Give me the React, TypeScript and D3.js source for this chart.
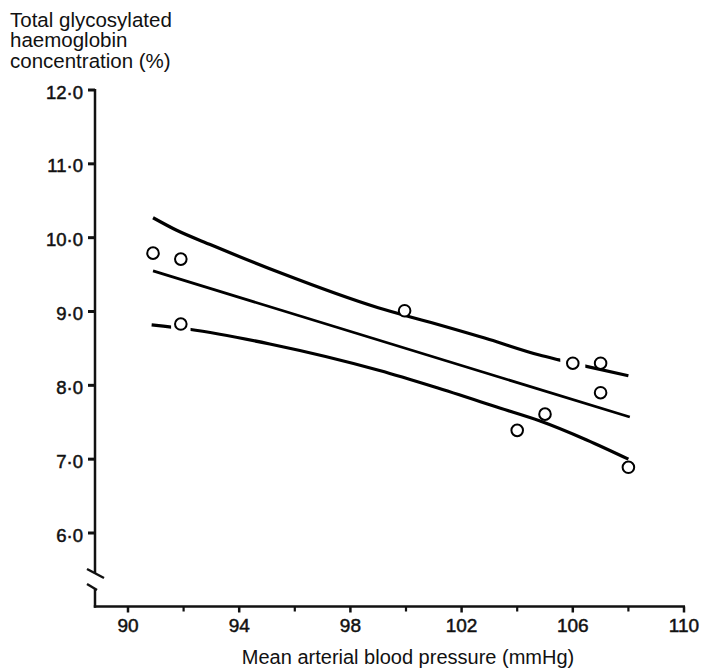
import React from "react";
import * as d3 from "d3";

// Observations: mean arterial blood pressure (mmHg) vs total glycosylated haemoglobin (%)
const mapValues = [90.9, 91.9, 91.9, 99.95, 106.0, 107.0, 107.0, 105.0, 104.0, 108.0];
const hbValues = [9.79, 9.71, 8.83, 9.01, 8.30, 8.30, 7.90, 7.61, 7.39, 6.89];

// Fitted regression line (end points)
const regX = [90.9, 108.05];
const regY = [9.55, 7.57];

// Upper and lower confidence limits
const upperX = [90.9, 91.75, 93, 95.5, 99, 100.9, 103, 104.8, 105.5, 106.45, 108];
const upperY = [10.27, 10.1, 9.9, 9.52, 9.05, 8.85, 8.62, 8.41, 8.345, 8.26, 8.13];
const lowerX = [90.85, 92.2, 95.1, 99.05, 101, 103.4, 104.8, 106.5, 108];
const lowerY = [8.82, 8.76, 8.56, 8.2, 7.98, 7.69, 7.52, 7.26, 7.0];

// Breaks in the limit lines where they pass a plotted point
const upperGap = [105.55, 106.45];
const lowerGap = [91.55, 92.25];

const xMajorTicks = [90, 94, 98, 102, 106, 110];
const xMinorTicks = [92, 96, 100, 104, 108];
const yTicks = [6, 7, 8, 9, 10, 11, 12];
const yTitleLines = ["Total glycosylated", "haemoglobin", "concentration (%)"];
const xTitle = "Mean arterial blood pressure (mmHg)";

const W = 703;
const H = 672;
const FONT = "'Liberation Sans', Arial, Helvetica, sans-serif";

export default function App() {
  const x = d3.scaleLinear().domain([90, 110]).range([128, 684]);
  const y = d3.scaleLinear().domain([6, 12]).range([533, 90]);
  const axisX = 95;
  const axisY = 606.5;

  const line = d3
    .line<[number, number]>()
    .x((d) => x(d[0]))
    .y((d) => y(d[1]))
    .curve(d3.curveMonotoneX);

  const upperPath = line(upperX.map((v, i) => [v, upperY[i]]) as [number, number][]) || "";
  const lowerPath = line(lowerX.map((v, i) => [v, lowerY[i]]) as [number, number][]) || "";
  const regPath =
    d3
      .line<[number, number]>()
      .x((d) => x(d[0]))
      .y((d) => y(d[1]))(regX.map((v, i) => [v, regY[i]]) as [number, number][]) || "";

  const labelText = (fs: number) => ({
    fontFamily: FONT,
    fontSize: fs,
    fill: "#111",
  });

  return (
    <svg
      width={W}
      height={H}
      viewBox={`0 0 ${W} ${H}`}
      style={{ position: "absolute", left: 0, top: 0, background: "#fff" }}
    >
      <defs>
        <mask id="upperMask" maskUnits="userSpaceOnUse" x={0} y={0} width={W} height={H}>
          <rect x={0} y={0} width={W} height={H} fill="#fff" />
          <rect x={x(upperGap[0])} y={0} width={x(upperGap[1]) - x(upperGap[0])} height={H} fill="#000" />
        </mask>
        <mask id="lowerMask" maskUnits="userSpaceOnUse" x={0} y={0} width={W} height={H}>
          <rect x={0} y={0} width={W} height={H} fill="#fff" />
          <rect x={x(lowerGap[0])} y={0} width={x(lowerGap[1]) - x(lowerGap[0])} height={H} fill="#000" />
        </mask>
      </defs>
      <rect x={0} y={0} width={W} height={H} fill="#fff" />

      {/* y-axis title */}
      {yTitleLines.map((t, i) => (
        <text key={t} x={10} y={26.5 + i * 20.8} {...labelText(20.5)}>
          {t}
        </text>
      ))}

      {/* y axis with break */}
      <g stroke="#111" strokeWidth={2.5} fill="none" strokeLinecap="butt">
        <line x1={axisX} y1={y(12) - 1} x2={axisX} y2={573} />
        <line x1={87} y1={569} x2={104} y2={578} />
        <line x1={87} y1={584} x2={97} y2={590} />
        <line x1={axisX} y1={589} x2={axisX} y2={axisY + 1.2} />
        {yTicks.map((t) => (
          <line key={t} x1={axisX - 7} y1={y(t)} x2={axisX} y2={y(t)} strokeWidth={3} />
        ))}
      </g>
      {yTicks.map((t) => (
        <text
          key={t}
          x={83}
          y={y(t) + 2}
          dy="0.36em"
          textAnchor="end"
          {...labelText(18.5)}
          stroke="#111"
          strokeWidth={0.5}
        >
          {`${Math.floor(t)}\u00B70`}
        </text>
      ))}

      {/* x axis */}
      <g stroke="#111" strokeWidth={2.5} fill="none">
        <line x1={axisX - 1.2} y1={axisY} x2={x(110) + 1} y2={axisY} />
        {xMajorTicks.map((t) => (
          <line key={t} x1={x(t)} y1={axisY} x2={x(t)} y2={axisY + 6} strokeWidth={2.5} />
        ))}
        {xMinorTicks.map((t) => (
          <line key={t} x1={x(t)} y1={axisY} x2={x(t)} y2={axisY + 5} strokeWidth={2.2} />
        ))}
      </g>
      {xMajorTicks.map((t) => (
        <text
          key={t}
          x={x(t)}
          y={632}
          textAnchor="middle"
          {...labelText(19)}
          stroke="#111"
          strokeWidth={0.5}
        >
          {t}
        </text>
      ))}
      <text x={408} y={664} textAnchor="middle" {...labelText(20)}>
        {xTitle}
      </text>

      {/* regression line and confidence limits */}
      <path d={upperPath} fill="none" stroke="#000" strokeWidth={3.2} mask="url(#upperMask)" />
      <path d={lowerPath} fill="none" stroke="#000" strokeWidth={3.2} mask="url(#lowerMask)" />
      <path d={regPath} fill="none" stroke="#000" strokeWidth={2.7} />

      {/* observations */}
      {mapValues.map((v, i) => (
        <circle
          key={i}
          cx={x(v)}
          cy={y(hbValues[i])}
          r={5.8}
          fill="#fff"
          stroke="#000"
          strokeWidth={2}
        />
      ))}
    </svg>
  );
}
